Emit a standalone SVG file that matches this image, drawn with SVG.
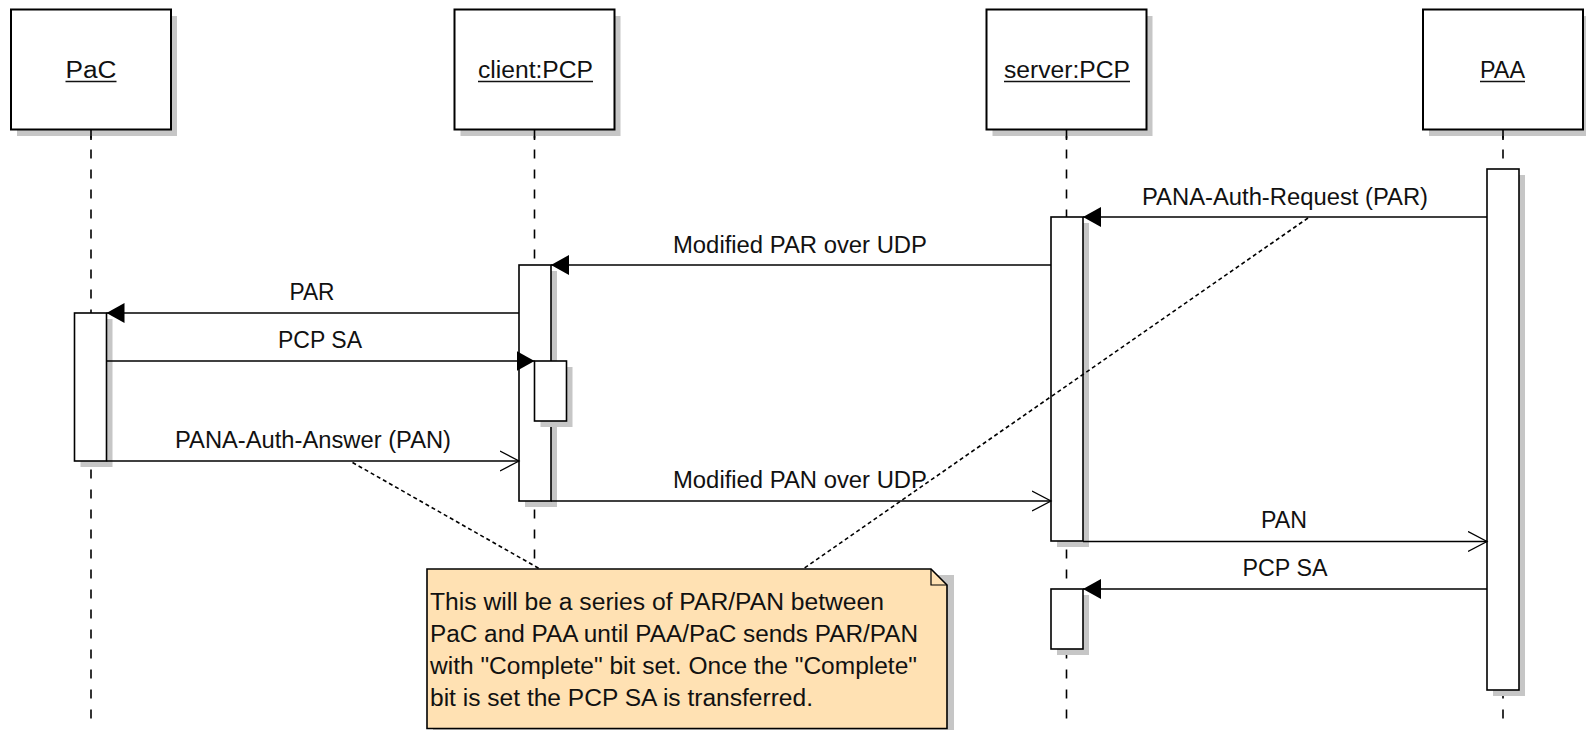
<svg xmlns="http://www.w3.org/2000/svg" width="1586" height="730" viewBox="0 0 1586 730">
<defs>
<style>
.head{fill:#fff;stroke:#000;stroke-width:2}
.shadow{fill:#c6c6c6;stroke:none}
.act{fill:#fff;stroke:#000;stroke-width:1.6}
.life{stroke:#000;stroke-width:1.6;stroke-dasharray:9 11;fill:none}
.msg{stroke:#000;stroke-width:1.5;fill:none}
.txt{font-family:"Liberation Sans",Arial,sans-serif;font-size:23px;fill:#111}
.lbl{text-anchor:middle}
.ul{stroke:#111;stroke-width:1.6}
.noteline{stroke:#000;stroke-width:1.6;stroke-dasharray:4 3;fill:none}
</style>
<marker id="filled" markerUnits="userSpaceOnUse" markerWidth="20" markerHeight="22" refX="18" refY="10" orient="auto" viewBox="0 0 20 22">
<path d="M0,0 L18,10 L0,20 Z" fill="#000"/>
</marker>
<marker id="open" markerUnits="userSpaceOnUse" markerWidth="22" markerHeight="24" refX="19" refY="11" orient="auto" viewBox="0 0 22 24">
<path d="M0,1 L19,11 L0,21" fill="none" stroke="#000" stroke-width="1.3"/>
</marker>
</defs>
<rect width="1586" height="730" fill="#fff"/>

<g id="lifelines">
<line class="life" x1="91" y1="129.5" x2="91" y2="720"/>
<line class="life" x1="534.5" y1="129.5" x2="534.5" y2="720"/>
<line class="life" x1="1066.5" y1="129.5" x2="1066.5" y2="720"/>
<line class="life" x1="1503" y1="129.5" x2="1503" y2="720"/>
</g>

<g id="PaC">
<rect class="shadow" x="17" y="16" width="160" height="120"/>
<rect class="head" x="11" y="9.5" width="160" height="120"/>
<line class="life" x1="91" y1="129.5" x2="91" y2="140" style="stroke-dasharray:none"/>
<text class="txt lbl" x="91" y="78" textLength="51" lengthAdjust="spacingAndGlyphs">PaC</text>
<line class="ul" x1="65.5" y1="81.5" x2="116.5" y2="81.5"/>
</g>

<g id="clientPCP">
<rect class="shadow" x="460.5" y="16" width="160" height="120"/>
<rect class="head" x="454.5" y="9.5" width="160" height="120"/>
<line class="life" x1="534.5" y1="129.5" x2="534.5" y2="140" style="stroke-dasharray:none"/>
<text class="txt lbl" x="535.5" y="78" textLength="115" lengthAdjust="spacingAndGlyphs">client:PCP</text>
<line class="ul" x1="478" y1="81.5" x2="593" y2="81.5"/>
</g>

<g id="serverPCP">
<rect class="shadow" x="992.5" y="16" width="160" height="120"/>
<rect class="head" x="986.5" y="9.5" width="160" height="120"/>
<line class="life" x1="1066.5" y1="129.5" x2="1066.5" y2="140" style="stroke-dasharray:none"/>
<text class="txt lbl" x="1067" y="78" textLength="126" lengthAdjust="spacingAndGlyphs">server:PCP</text>
<line class="ul" x1="1004" y1="81.5" x2="1130" y2="81.5"/>
</g>

<g id="PAA">
<rect class="shadow" x="1429" y="16" width="160" height="120"/>
<rect class="head" x="1423" y="9.5" width="160" height="120"/>
<line class="life" x1="1503" y1="129.5" x2="1503" y2="140" style="stroke-dasharray:none"/>
<text class="txt lbl" x="1502.5" y="78" textLength="45" lengthAdjust="spacingAndGlyphs">PAA</text>
<line class="ul" x1="1480" y1="81.5" x2="1525" y2="81.5"/>
</g>

<g id="activations">
<rect class="shadow" x="1493" y="175" width="32" height="521"/>
<rect class="act" x="1487" y="169" width="32" height="521"/>
<rect class="shadow" x="1057" y="223" width="32" height="324"/>
<rect class="act" x="1051" y="217" width="32" height="324"/>
<rect class="shadow" x="1057" y="595" width="32" height="60"/>
<rect class="act" x="1051" y="589" width="32" height="60"/>
<rect class="shadow" x="525" y="271" width="32" height="236"/>
<rect class="act" x="519" y="265" width="32" height="236"/>
<rect class="shadow" x="540.5" y="367" width="32" height="60"/>
<rect class="act" x="534.5" y="361" width="32" height="60"/>
<rect class="shadow" x="80.5" y="319" width="32" height="148"/>
<rect class="act" x="74.5" y="313" width="32" height="148"/>
</g>

<g id="note">
<polygon class="shadow" points="433,575 954,575 954,735 433,735"/>
<polygon points="427,569 931,569 947,585 947,728.5 427,728.5" fill="#ffe1b3" stroke="#000" stroke-width="1.6"/>
<polyline points="931,569 931,585 947,585" fill="none" stroke="#000" stroke-width="1.2"/>
<text class="txt" x="430" y="610" textLength="454" lengthAdjust="spacingAndGlyphs">This will be a series of PAR/PAN between</text>
<text class="txt" x="430" y="642" textLength="488" lengthAdjust="spacingAndGlyphs">PaC and PAA until PAA/PaC sends PAR/PAN</text>
<text class="txt" x="430" y="674" textLength="487" lengthAdjust="spacingAndGlyphs">with "Complete" bit set. Once the "Complete"</text>
<text class="txt" x="430" y="706" textLength="383" lengthAdjust="spacingAndGlyphs">bit is set the PCP SA is transferred.</text>
</g>

<g id="connectors">
<line class="msg" x1="1487" y1="217" x2="1083" y2="217" marker-end="url(#filled)"/>
<text class="txt lbl" x="1285" y="205" textLength="286" lengthAdjust="spacingAndGlyphs">PANA-Auth-Request (PAR)</text>
<line class="msg" x1="1051" y1="265" x2="551" y2="265" marker-end="url(#filled)"/>
<text class="txt lbl" x="800" y="253" textLength="254" lengthAdjust="spacingAndGlyphs">Modified PAR over UDP</text>
<line class="msg" x1="519" y1="313" x2="106.5" y2="313" marker-end="url(#filled)"/>
<text class="txt lbl" x="312" y="300" textLength="45" lengthAdjust="spacingAndGlyphs">PAR</text>
<line class="msg" x1="106.5" y1="361" x2="534.5" y2="361" marker-end="url(#filled)"/>
<text class="txt lbl" x="320" y="348" textLength="84" lengthAdjust="spacingAndGlyphs">PCP SA</text>
<line class="msg" x1="106.5" y1="461" x2="519" y2="461" marker-end="url(#open)"/>
<text class="txt lbl" x="313" y="448" textLength="276" lengthAdjust="spacingAndGlyphs">PANA-Auth-Answer (PAN)</text>
<line class="msg" x1="551" y1="501" x2="1051" y2="501" marker-end="url(#open)"/>
<text class="txt lbl" x="800" y="488" textLength="254" lengthAdjust="spacingAndGlyphs">Modified PAN over UDP</text>
<line class="msg" x1="1083" y1="541.5" x2="1487" y2="541.5" marker-end="url(#open)"/>
<text class="txt lbl" x="1284" y="528" textLength="46" lengthAdjust="spacingAndGlyphs">PAN</text>
<line class="msg" x1="1487" y1="589" x2="1083" y2="589" marker-end="url(#filled)"/>
<text class="txt lbl" x="1285" y="576" textLength="85" lengthAdjust="spacingAndGlyphs">PCP SA</text>
<line class="noteline" x1="352.5" y1="462.5" x2="540" y2="569"/>
<line class="noteline" x1="1308" y1="218" x2="803" y2="569"/>
</g>
</svg>
